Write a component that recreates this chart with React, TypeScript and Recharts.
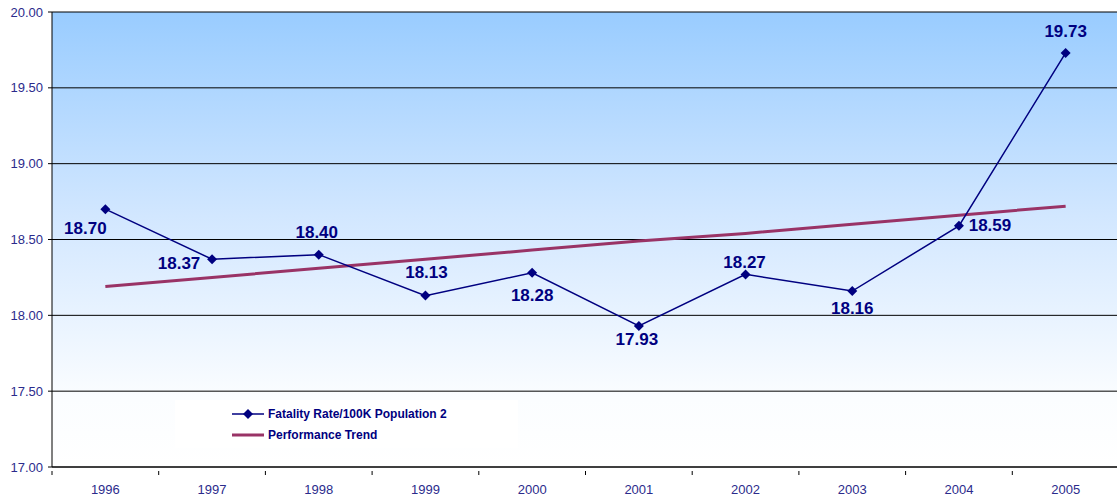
import { LineChart, Line, XAxis, YAxis, CartesianGrid, Legend } from 'recharts';

const YEARS = ['1996', '1997', '1998', '1999', '2000', '2001', '2002', '2003', '2004', '2005'];
const FATALITY_RATE = [18.7, 18.37, 18.4, 18.13, 18.28, 17.93, 18.27, 18.16, 18.59, 19.73];
const TREND = [18.19, 18.25, 18.31, 18.37, 18.43, 18.49, 18.54, 18.6, 18.66, 18.72];
const Y_TICKS = [17, 17.5, 18, 18.5, 19, 19.5, 20];

// where each value label sits relative to its point
const LABEL_OFFSETS: [number, number][] = [
  [-20, 19], [-33, 4], [-2, -22], [1, -23], [0, 23], [-2, 14], [-1, -12], [0, 17], [31, 0], [0, -21],
];

const NAVY = '#000080';
const AXIS_TEXT = '#2B2B8C';
const FONT = 'Liberation Sans, Arial, sans-serif';
const HALF_BAND = 53.35;

const data = YEARS.map((year, i) => ({ year, rate: FATALITY_RATE[i], trend: TREND[i] }));

const ValueLabel = (props: any) => {
  const { x, y, index, value } = props;
  const [dx, dy] = LABEL_OFFSETS[index] || [0, -15];
  return (
    <text
      x={x + dx}
      y={y + dy}
      textAnchor="middle"
      dominantBaseline="central"
      fill={NAVY}
      fontSize={17}
      fontWeight="bold"
      fontFamily={FONT}
    >
      {Number(value).toFixed(2)}
    </text>
  );
};

const Diamond = (props: any) => {
  const { cx, cy } = props;
  if (cx == null || cy == null) return null;
  return <path d={`M${cx},${cy - 5}L${cx + 5},${cy}L${cx},${cy + 5}L${cx - 5},${cy}Z`} fill={NAVY} />;
};

// category label in the middle, tick mark on the band boundary (Excel style)
const YearTick = (props: any) => {
  const { x, y, payload } = props;
  return (
    <g>
      <line x1={x - HALF_BAND} y1={y - 4} x2={x - HALF_BAND} y2={y} stroke="#000" />
      <text x={x} y={y + 19} textAnchor="middle" fill={AXIS_TEXT} fontSize={13} fontFamily={FONT}>
        {payload.value}
      </text>
    </g>
  );
};

const LegendBox = () => (
  <div
    style={{
      background: 'rgba(255,255,255,0.85)',
      width: 343,
      height: 48,
      boxSizing: 'border-box',
      paddingLeft: 57,
      paddingTop: 4,
      fontFamily: FONT,
      fontSize: 12,
      fontWeight: 'bold',
      color: NAVY,
      textAlign: 'left',
    }}
  >
    <div style={{ display: 'flex', alignItems: 'center', height: 20 }}>
      <svg width={32} height={12} style={{ marginRight: 4 }}>
        <line x1={0} y1={6} x2={32} y2={6} stroke={NAVY} strokeWidth={1.5} />
        <path d="M16,1L21,6L16,11L11,6Z" fill={NAVY} />
      </svg>
      Fatality Rate/100K Population 2
    </div>
    <div style={{ display: 'flex', alignItems: 'center', height: 22 }}>
      <svg width={32} height={12} style={{ marginRight: 4 }}>
        <line x1={0} y1={6} x2={32} y2={6} stroke="#993366" strokeWidth={3} />
      </svg>
      Performance Trend
    </div>
  </div>
);

export default function App() {
  return (
    <div style={{ position: 'absolute', left: 0, top: 0, width: 1117, height: 500, background: '#fff' }}>
      <LineChart width={1117} height={500} data={data} margin={{ top: 12, right: -2, bottom: 0, left: 0 }}>
        <defs>
          <linearGradient id="plotBg" x1="0" y1="0" x2="0" y2="1">
            <stop offset="0%" stopColor="#99CCFF" />
            <stop offset="45%" stopColor="#D2E7FF" />
            <stop offset="85%" stopColor="#FBFDFF" />
            <stop offset="100%" stopColor="#FFFFFF" />
          </linearGradient>
        </defs>
        <CartesianGrid vertical={false} stroke="#000" fill="url(#plotBg)" fillOpacity={1} />
        <XAxis
          dataKey="year"
          axisLine={{ stroke: '#000' }}
          tickLine={false}
          height={33}
          padding={{ left: HALF_BAND, right: HALF_BAND }}
          tick={<YearTick />}
          interval={0}
        />
        <YAxis
          domain={[17, 20]}
          ticks={Y_TICKS}
          tickFormatter={(v: number) => v.toFixed(2)}
          axisLine={{ stroke: '#000' }}
          tickLine={{ stroke: '#000' }}
          tickSize={4}
          width={52}
          tick={{ fill: AXIS_TEXT, fontSize: 13, fontFamily: FONT, dx: -3 }}
        />
        <Legend
          layout="horizontal"
          verticalAlign="middle"
          align="center"
          wrapperStyle={{ left: 175, top: 400, width: 343 }}
          content={() => <LegendBox />}
        />
        <Line
          dataKey="trend"
          stroke="#993366"
          strokeWidth={3}
          dot={false}
          activeDot={false}
          isAnimationActive={false}
        />
        <Line
          dataKey="rate"
          stroke={NAVY}
          strokeWidth={1.5}
          dot={<Diamond />}
          activeDot={false}
          isAnimationActive={false}
          label={<ValueLabel />}
        />
      </LineChart>
    </div>
  );
}
